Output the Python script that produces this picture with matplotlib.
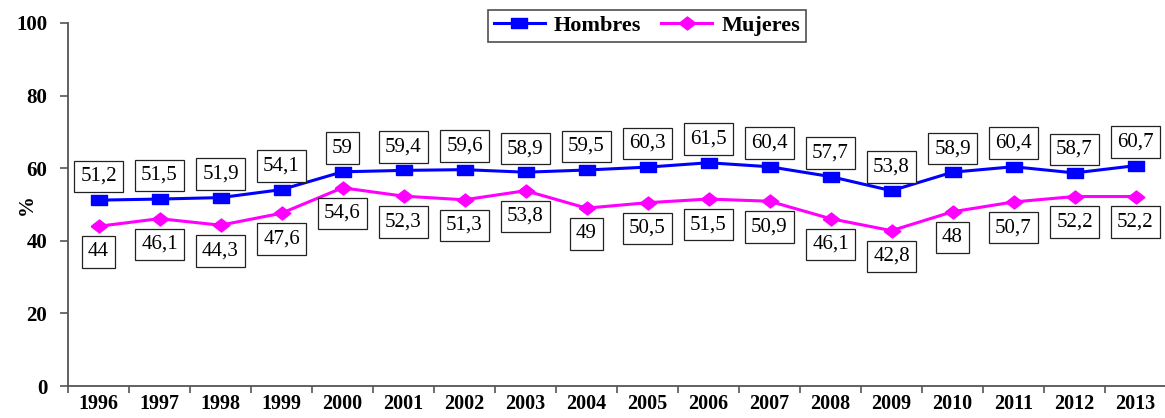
import numpy as np
from matplotlib import pyplot as plt

years = [str(y) for y in range(1996, 2014)]
hombres = [51.2, 51.5, 51.9, 54.1, 59, 59.4, 59.6, 58.9, 59.5, 60.3,
           61.5, 60.4, 57.7, 53.8, 58.9, 60.4, 58.7, 60.7]
mujeres = [44, 46.1, 44.3, 47.6, 54.6, 52.3, 51.3, 53.8, 49, 50.5,
           51.5, 50.9, 46.1, 42.8, 48, 50.7, 52.2, 52.2]

plt.rcParams['font.family'] = ['Liberation Serif', 'DejaVu Serif']


def fmt(v):
    s = ('%.1f' % v).rstrip('0').rstrip('.')
    return s.replace('.', ',')


# slightly wide markers, like the stretched original
rect = [(-1, -0.68), (1, -0.68), (1, 0.68), (-1, 0.68), (-1, -0.68)]
diam = [(-1, 0), (0, 0.78), (1, 0), (0, -0.78), (-1, 0)]

fig = plt.figure(figsize=(11.65, 4.18), dpi=100)
ax = fig.add_axes([68 / 1165, 1 - 386 / 418, 1098 / 1165, 363 / 418])

x = np.arange(len(years))
ax.plot(x, hombres, color='#0000FF', lw=2.2, marker=rect, ms=11, label='Hombres', clip_on=False)
ax.plot(x, mujeres, color='#FF00FF', lw=2.2, marker=diam, ms=12, label='Mujeres', clip_on=False)

box = dict(boxstyle='square,pad=0.3', fc='white', ec='#222222', lw=0.9)
for i, v in enumerate(hombres):
    ax.annotate(fmt(v), (x[i], v), xytext=(0, 17), textcoords='offset points',
                ha='center', va='center', fontsize=15, bbox=box, annotation_clip=False)
for i, v in enumerate(mujeres):
    ax.annotate(fmt(v), (x[i], v), xytext=(0, -18.5), textcoords='offset points',
                ha='center', va='center', fontsize=15, bbox=box, annotation_clip=False)

ax.set_xlim(-0.5, len(years) - 0.5)
ax.set_ylim(0, 100)
ax.set_yticks(range(0, 101, 20))
ax.set_xticks(x)
ax.set_xticklabels(years, fontsize=14.5, fontweight='bold')
ax.set_xticks(np.arange(-0.5, len(years), 1), minor=True)
ax.tick_params(axis='x', which='major', length=0, pad=6)
ax.tick_params(axis='x', which='minor', length=5, color='#555555', width=1.2, direction='out')
ax.tick_params(axis='y', length=6, color='#555555', width=1.2, labelsize=15, pad=9)
for lab in ax.get_yticklabels():
    lab.set_fontweight('bold')

for s in ['top', 'right']:
    ax.spines[s].set_visible(False)
for s in ['left', 'bottom']:
    ax.spines[s].set_color('#555555')
    ax.spines[s].set_linewidth(1.3)

ax.set_ylabel('%', fontsize=15, fontweight='bold', va='center')
ax.yaxis.set_label_coords(-41 / 1098, 0.5)

leg = fig.legend(loc='center', bbox_to_anchor=(647 / 1165, 1 - 26 / 418), ncol=2,
                 prop={'weight': 'bold', 'size': 16}, frameon=True, fancybox=False,
                 edgecolor='#222222', handlelength=2.3, columnspacing=0.9,
                 borderpad=0.25, handletextpad=0.4, borderaxespad=0)
leg.get_frame().set_linewidth(1.2)

fig.savefig('out.png', dpi=100)
